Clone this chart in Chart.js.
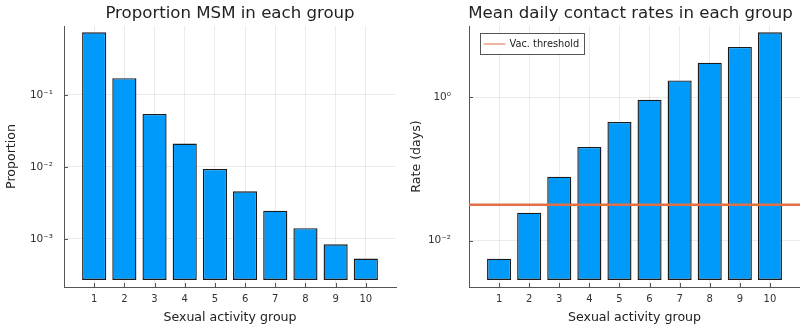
<!DOCTYPE html>
<html>
<head>
<meta charset="utf-8">
<script src="https://cdn.jsdelivr.net/npm/chart.js@4.4.1/dist/chart.umd.min.js"></script>
<style>
  html, body { margin: 0; padding: 0; background: #fff; }
  #wrap { position: relative; width: 800px; height: 327px; }
  canvas { position: absolute; top: 0; }
</style>
</head>
<body>
<div id="wrap">
  <canvas id="propChart" width="400" height="327" style="left:0"></canvas>
  <canvas id="rateChart" width="400" height="327" style="left:400px"></canvas>
</div>
<script>
// data
const groups = [1, 2, 3, 4, 5, 6, 7, 8, 9, 10];
const proportionMSM = [0.743, 0.171, 0.0545, 0.0211, 0.0094, 0.00459, 0.00247, 0.00141, 0.000843, 0.000533];
const contactRates = [0.00562, 0.0246, 0.0782, 0.203, 0.453, 0.926, 1.72, 3.04, 5.04, 8.05];
const vacThreshold = 0.0318;
const thresholdLabel = 'Vac. threshold';

const propTicks = [1e-3, 1e-2, 1e-1];
const propTickLabels = ['10\u207B\u00B3', '10\u207B\u00B2', '10\u207B\u00B9'];
const rateTicks = [1e-2, 1];
const rateTickLabels = ['10\u207B\u00B2', '10\u2070'];

const FONT = "'DejaVu Sans', sans-serif";
const barBlue = '#009AFA';
const lineOrange = '#E36F47';
const axisColor = '#555555';
const textColor = '#222222';
const gridColor = 'rgba(0,0,0,0.08)';

Chart.defaults.font.family = FONT;
Chart.defaults.color = textColor;
Chart.defaults.animation = false;

// julia-style tick marks drawn inside the plot area
const innerTicks = {
    id: 'innerTicks',
    afterDraw(chart) {
        const { ctx, chartArea, scales } = chart;
        ctx.save();
        ctx.strokeStyle = axisColor;
        ctx.lineWidth = 1;
        ctx.beginPath();
        scales.x.ticks.forEach(t => {
            const px = Math.round(scales.x.getPixelForValue(t.value)) + 0.5;
            ctx.moveTo(px, chartArea.bottom);
            ctx.lineTo(px, chartArea.bottom - 4);
        });
        scales.y.ticks.forEach(t => {
            const py = Math.round(scales.y.getPixelForValue(t.value)) + 0.5;
            ctx.moveTo(chartArea.left, py);
            ctx.lineTo(chartArea.left + 4, py);
        });
        ctx.stroke();
        ctx.restore();
    }
};

// title centred over the plot area, not the whole canvas
const areaTitle = {
    id: 'areaTitle',
    afterDraw(chart, args, opts) {
        const { ctx, chartArea } = chart;
        ctx.save();
        ctx.fillStyle = textColor;
        ctx.font = '16.6px ' + FONT;
        ctx.textAlign = 'center';
        ctx.textBaseline = 'middle';
        ctx.fillText(opts.text, (chartArea.left + chartArea.right) / 2 + (opts.shift || 0), 14);
        ctx.restore();
    }
};

// boxed legend in the top-left corner of the plot
const boxLegend = {
    id: 'boxLegend',
    afterDraw(chart) {
        const { ctx, chartArea } = chart;
        const ds = chart.data.datasets.find(d => d.type === 'line');
        if (!ds) return;
        const x = chartArea.left + 11.5, y = chartArea.top + 7.5;
        ctx.save();
        ctx.fillStyle = '#fff';
        ctx.strokeStyle = axisColor;
        ctx.lineWidth = 1;
        ctx.fillRect(x, y, 104, 21);
        ctx.strokeRect(x, y, 104, 21);
        ctx.strokeStyle = ds.borderColor;
        ctx.beginPath();
        ctx.moveTo(x + 3, y + 10.5);
        ctx.lineTo(x + 25, y + 10.5);
        ctx.stroke();
        ctx.fillStyle = textColor;
        ctx.font = '9.8px ' + FONT;
        ctx.textBaseline = 'middle';
        ctx.fillText(ds.label, x + 29, y + 11);
        ctx.restore();
    }
};

function makeOptions(title, titleShift, yTitle, yMin, yMax, yTickVals, yTickLabels, yWidth, yPad, yTitlePad, rightPad) {
    return {
        responsive: false,
        layout: { padding: { left: 0, right: rightPad, top: 26, bottom: 0 } },
        plugins: {
            legend: { display: false },
            tooltip: { enabled: false },
            title: { display: false },
            areaTitle: { text: title, shift: titleShift }
        },
        scales: {
            x: {
                type: 'linear',
                min: 0,
                max: 11,
                offset: false,
                afterBuildTicks: s => { s.ticks = groups.map(g => ({ value: g })); },
                afterFit: s => { s.height = 40; },
                ticks: { font: { size: 10 }, color: '#333', padding: 6, autoSkip: false, maxRotation: 0 },
                grid: { color: gridColor, offset: false, drawTicks: false },
                border: { display: true, color: axisColor, width: 1 },
                title: {
                    display: true,
                    text: 'Sexual activity group',
                    font: { size: 12.6 },
                    color: textColor,
                    padding: { top: 0, bottom: 1.5 }
                }
            },
            y: {
                type: 'logarithmic',
                min: yMin,
                max: yMax,
                afterBuildTicks: s => { s.ticks = yTickVals.map(v => ({ value: v })); },
                afterFit: s => { s.width = yWidth; },
                ticks: {
                    font: { size: 10.5 },
                    color: '#333',
                    padding: yPad,
                    callback: (v, i) => yTickLabels[i]
                },
                grid: { color: gridColor, drawTicks: false },
                border: { display: true, color: axisColor, width: 1 },
                title: {
                    display: true,
                    text: yTitle,
                    font: { size: 12.6 },
                    color: textColor,
                    padding: { top: yTitlePad, bottom: 0 }
                }
            }
        }
    };
}

function barDataset(values, base) {
    return {
        type: 'bar',
        data: groups.map((g, i) => ({ x: g, y: values[i] })),
        base: base,
        backgroundColor: barBlue,
        borderColor: '#1a1a1a',
        borderWidth: 1.4,
        borderSkipped: false,
        barPercentage: 1,
        categoryPercentage: 0.8,
        order: 2
    };
}

new Chart(document.getElementById('propChart'), {
    type: 'bar',
    data: { datasets: [barDataset(proportionMSM, 2.7e-4)] },
    options: makeOptions('Proportion MSM in each group', 0, 'Proportion', 2.15e-4, 0.908,
        propTicks, propTickLabels, 64, 11, 4, 4),
    plugins: [innerTicks, areaTitle]
});

new Chart(document.getElementById('rateChart'), {
    type: 'bar',
    data: {
        datasets: [
            {
                type: 'line',
                label: thresholdLabel,
                data: [{ x: 0, y: vacThreshold }, { x: 11, y: vacThreshold }],
                borderColor: lineOrange,
                borderWidth: 2.5,
                pointRadius: 0,
                order: 1
            },
            barDataset(contactRates, 2.83e-3)
        ]
    },
    options: makeOptions('Mean daily contact rates in each group', -4, 'Rate (days)', 2.26e-3, 9.87,
        rateTicks, rateTickLabels, 69, 18, 9, 0),
    plugins: [innerTicks, areaTitle, boxLegend]
});
</script>
</body>
</html>
